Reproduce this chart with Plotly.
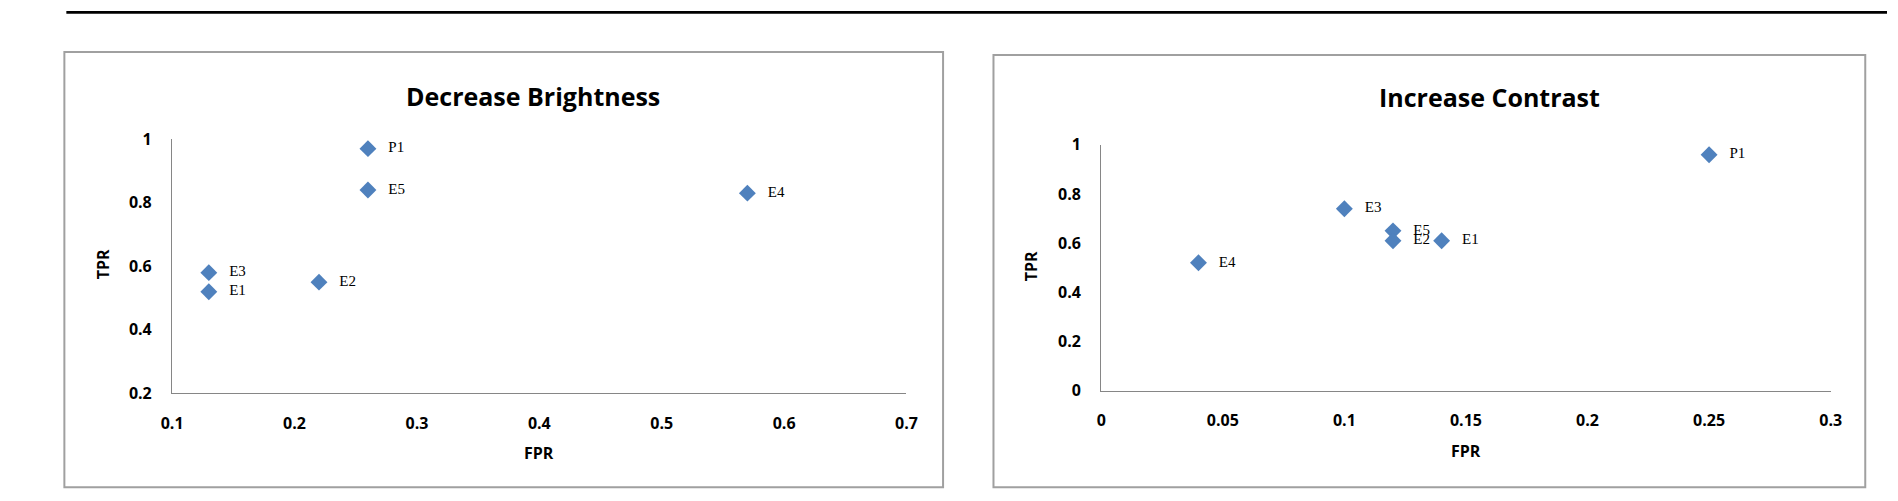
import plotly.graph_objects as go

W, H = 1898, 501

# ---------------- data ----------------
left_title = "Decrease Brightness"
left_labels = ["P1", "E5", "E4", "E3", "E1", "E2"]
left_fpr = [0.26, 0.26, 0.57, 0.13, 0.13, 0.22]
left_tpr = [0.97, 0.84, 0.83, 0.58, 0.52, 0.55]
left_xticks = [0.1, 0.2, 0.3, 0.4, 0.5, 0.6, 0.7]
left_xticktext = ["0.1", "0.2", "0.3", "0.4", "0.5", "0.6", "0.7"]
left_yticks = [0.2, 0.4, 0.6, 0.8, 1.0]
left_yticktext = ["0.2", "0.4", "0.6", "0.8", "1"]

right_title = "Increase Contrast"
right_labels = ["P1", "E3", "E5", "E2", "E1", "E4"]
right_fpr = [0.25, 0.10, 0.12, 0.12, 0.14, 0.04]
right_tpr = [0.96, 0.74, 0.65, 0.61, 0.61, 0.52]
right_xticks = [0, 0.05, 0.1, 0.15, 0.2, 0.25, 0.3]
right_xticktext = ["0", "0.05", "0.1", "0.15", "0.2", "0.25", "0.3"]
right_yticks = [0, 0.2, 0.4, 0.6, 0.8, 1.0]
right_yticktext = ["0", "0.2", "0.4", "0.6", "0.8", "1"]

x_title = "FPR"
y_title = "TPR"

# ---------------- styling helpers ----------------
def px(x):
    return x / W

def py(y):
    return 1 - y / H

MARKER = "#4F81BD"
AXIS = "#868686"
BOX = "#A0A0A0"
SANS = "Open Sans, Lato, Arial, sans-serif"
SERIF = "Liberation Serif, Times New Roman, serif"

fig = go.Figure()

for xs, ys, labs, xa, ya in [
    (left_fpr, left_tpr, left_labels, "x", "y"),
    (right_fpr, right_tpr, right_labels, "x2", "y2"),
]:
    fig.add_trace(go.Scatter(
        x=xs, y=ys, text=labs, mode="markers+text",
        texttemplate="   %{text}",
        textposition="middle right",
        marker=dict(symbol="diamond", size=13, color=MARKER),
        textfont=dict(family=SERIF, size=15, color="#000000"),
        cliponaxis=False, xaxis=xa, yaxis=ya, showlegend=False,
        hoverinfo="skip",
    ))

tickfont = dict(family=SANS, size=16, color="#000000", weight="bold")

axis_common = dict(
    showgrid=False, zeroline=False, showline=True, linecolor=AXIS,
    linewidth=1.3, ticks="", mirror=False, tickfont=tickfont,
)

fig.update_layout(
    width=W, height=H,
    margin=dict(l=0, r=0, t=0, b=0),
    paper_bgcolor="white", plot_bgcolor="white",
    xaxis=dict(domain=[px(163), px(906)], range=[0.1, 0.7],
               tickvals=left_xticks, ticktext=left_xticktext,
               anchor="y", ticklabelstandoff=15, **axis_common),
    yaxis=dict(domain=[py(400), py(134)], range=[0.2, 1.0],
               tickvals=left_yticks, ticktext=left_yticktext,
               anchor="x", ticklabelstandoff=16, **axis_common),
    xaxis2=dict(domain=[px(1103), px(1841)], range=[0, 0.3],
                tickvals=right_xticks, ticktext=right_xticktext,
                anchor="y2", ticklabelstandoff=15, **axis_common),
    yaxis2=dict(domain=[py(397), py(140)], range=[0, 1.0],
                tickvals=right_yticks, ticktext=right_yticktext,
                anchor="x2", ticklabelstandoff=16, **axis_common),
)

shapes = [
    # top black rule
    dict(type="rect", xref="paper", yref="paper",
         x0=px(56), x1=px(1898), y0=py(3), y1=py(0),
         fillcolor="#000000", line=dict(width=0)),
    # chart boxes
    dict(type="rect", xref="paper", yref="paper",
         x0=px(54), x1=px(943), y0=py(498), y1=py(43),
         line=dict(color=BOX, width=2), fillcolor="rgba(0,0,0,0)"),
    dict(type="rect", xref="paper", yref="paper",
         x0=px(994), x1=px(1876), y0=py(498), y1=py(46),
         line=dict(color=BOX, width=2), fillcolor="rgba(0,0,0,0)"),
]
fig.update_layout(shapes=shapes)

titlefont = dict(family=SANS, size=25, color="#000000", weight="bold")
axtitlefont = dict(family=SANS, size=16, color="#000000", weight="bold")

annotations = [
    dict(text=left_title, x=px(528), y=py(89), xref="paper", yref="paper",
         showarrow=False, xanchor="center", yanchor="middle", font=titlefont),
    dict(text=right_title, x=px(1496), y=py(90), xref="paper", yref="paper",
         showarrow=False, xanchor="center", yanchor="middle", font=titlefont),
    dict(text=x_title, x=px(534), y=py(462), xref="paper", yref="paper",
         showarrow=False, xanchor="center", yanchor="middle", font=axtitlefont),
    dict(text=x_title, x=px(1472), y=py(460), xref="paper", yref="paper",
         showarrow=False, xanchor="center", yanchor="middle", font=axtitlefont),
    dict(text=y_title, x=px(93), y=py(265), xref="paper", yref="paper",
         showarrow=False, xanchor="center", yanchor="middle", textangle=-90,
         font=axtitlefont),
    dict(text=y_title, x=px(1032), y=py(267), xref="paper", yref="paper",
         showarrow=False, xanchor="center", yanchor="middle", textangle=-90,
         font=axtitlefont),
]
fig.update_layout(annotations=annotations)

fig.write_html(
    "out.html",
    config={"displayModeBar": False},
    post_script="document.body.style.margin='0';document.body.style.overflow='hidden';",
)
